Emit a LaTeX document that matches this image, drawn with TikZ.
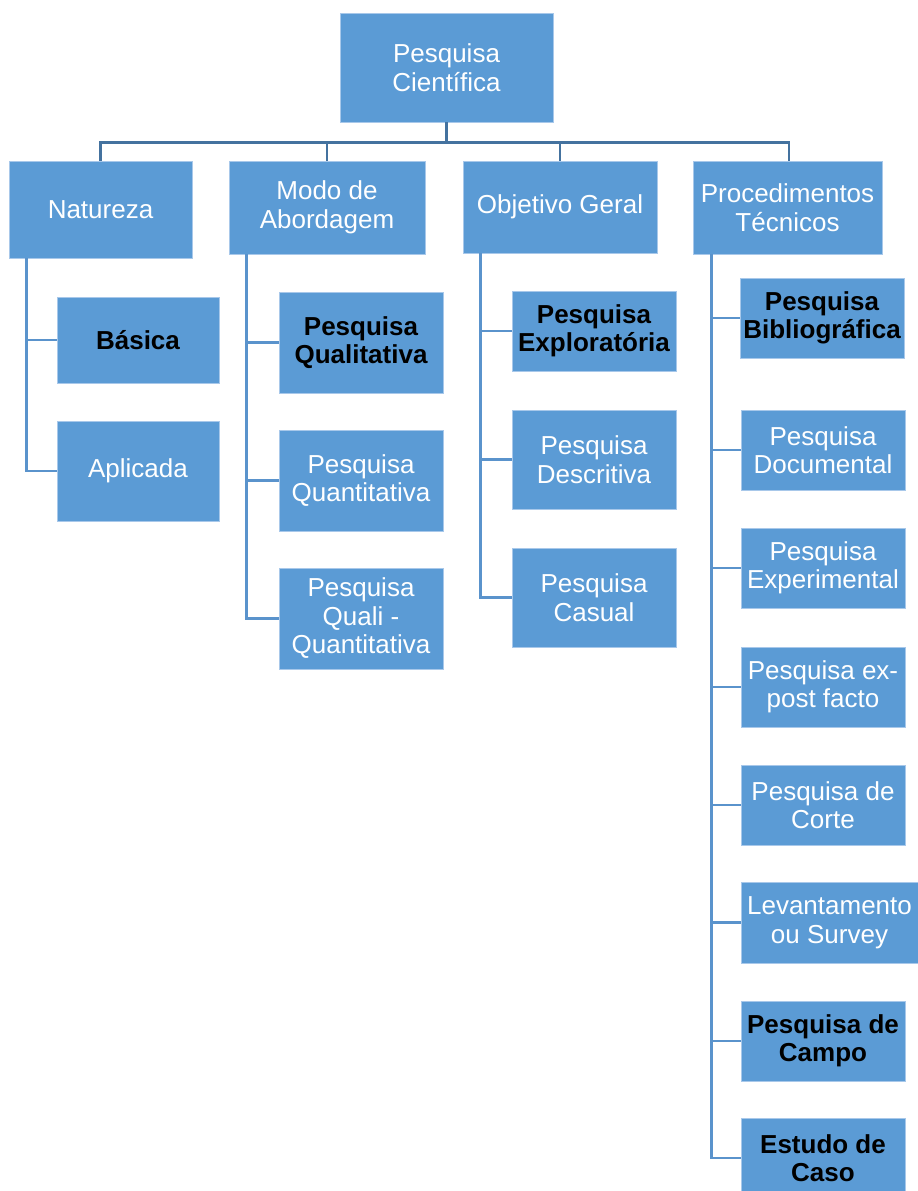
\documentclass[tikz,border=0pt]{standalone}
\usepackage{fontspec}
\setmainfont{Liberation Sans}
\definecolor{boxfill}{HTML}{5B9BD5}
\definecolor{boxedge}{HTML}{A8C8EA}
\definecolor{buscol}{HTML}{44729F}
\definecolor{sidecol}{HTML}{5A93CC}
\tikzset{
  box/.style={rectangle, fill=boxfill, draw=boxedge, line width=0.8pt, inner sep=0pt,
    align=center, text=white, font=\fontsize{26}{28.5}\selectfont},
  boldbox/.style={box, text=black, font=\fontsize{26}{28.5}\selectfont\bfseries},
  bus/.style={draw=buscol, line width=2.6pt},
  side/.style={draw=sidecol, line width=2.6pt},
}
\begin{document}
\begin{tikzpicture}[x=1pt,y=-1pt]
\useasboundingbox (0,0) rectangle (918,1191);
\clip (0,0) rectangle (918,1191);
% root
\node[box, minimum width=213pt, minimum height=109pt] (root) at (446.5,67.5) {Pesquisa\\Científica};
% level 1
\node[box, minimum width=183pt, minimum height=97pt] (nat) at (100.5,209.5) {Natureza};
\node[box, minimum width=196pt, minimum height=93pt] (modo) at (327,207.5) {Modo de\\Abordagem};
\node[box, minimum width=194pt, minimum height=92pt] (obj) at (560,207) {Objetivo Geral};
\node[box, minimum width=189pt, minimum height=93pt] (proc) at (787.5,207.5) {Procedimentos\\Técnicos};
% Natureza children
\node[boldbox, minimum width=162pt, minimum height=86pt] (basica) at (138,340) {Básica};
\node[box, minimum width=162pt, minimum height=100pt] (aplicada) at (138,471) {Aplicada};
% Modo children
\node[boldbox, minimum width=164pt, minimum height=101pt] (qual) at (361,342.5) {Pesquisa\\Qualitativa};
\node[box, minimum width=164pt, minimum height=101pt] (quant) at (361,480.5) {Pesquisa\\Quantitativa};
\node[box, minimum width=164pt, minimum height=101pt] (qq) at (361,618.5) {Pesquisa\\Quali -\\Quantitativa};
% Objetivo children
\node[boldbox, minimum width=164pt, minimum height=80pt] (expl) at (594,331) {Pesquisa\\Exploratória};
\node[box, minimum width=164pt, minimum height=99pt] (desc) at (594,459.5) {Pesquisa\\Descritiva};
\node[box, minimum width=164pt, minimum height=99pt] (casual) at (594,597.5) {Pesquisa\\Casual};
% Procedimentos children
\node[boldbox, minimum width=164pt, minimum height=80pt] (bib) at (822,318) {Pesquisa\\Bibliográfica};
\node[box, minimum width=164pt, minimum height=80pt] (doc) at (823,450) {Pesquisa\\Documental};
\node[box, minimum width=164pt, minimum height=80pt] (exper) at (823,568) {Pesquisa\\Experimental};
\node[box, minimum width=164pt, minimum height=80pt] (expost) at (823,687) {Pesquisa ex-\\post facto};
\node[box, minimum width=164pt, minimum height=80pt] (corte) at (823,805) {Pesquisa de\\Corte};
\node[box, minimum width=177pt, minimum height=81pt] (lev) at (829.5,922.5) {Levantamento\\ou Survey};
\node[boldbox, minimum width=164pt, minimum height=80pt] (campo) at (823,1041) {Pesquisa de\\Campo};
\node[boldbox, minimum width=164pt, minimum height=80pt] (estudo) at (823,1158) {Estudo de\\Caso};
% bus connectors
\draw[bus] (root.south) -- ++(0,20) -| (nat.north);
\draw[bus] (root.south) -- ++(0,20) -| (modo.north);
\draw[bus] (root.south) -- ++(0,20) -| (obj.north);
\draw[bus] (root.south) -- ++(0,20) -| ([xshift=1.5pt]proc.north);
% side connectors
\draw[side] ([xshift=18pt]nat.south west) |- (basica.west);
\draw[side] ([xshift=18pt]nat.south west) |- (aplicada.west);
\draw[side] ([xshift=18pt]modo.south west) |- (qual.west);
\draw[side] ([xshift=18pt]modo.south west) |- (quant.west);
\draw[side] ([xshift=18pt]modo.south west) |- (qq.west);
\draw[side] ([xshift=18pt]obj.south west) |- (expl.west);
\draw[side] ([xshift=18pt]obj.south west) |- (desc.west);
\draw[side] ([xshift=18pt]obj.south west) |- (casual.west);
\draw[side] ([xshift=19pt]proc.south west) |- (bib.west);
\draw[side] ([xshift=19pt]proc.south west) |- (doc.west);
\draw[side] ([xshift=19pt]proc.south west) |- (exper.west);
\draw[side] ([xshift=19pt]proc.south west) |- (expost.west);
\draw[side] ([xshift=19pt]proc.south west) |- (corte.west);
\draw[side] ([xshift=19pt]proc.south west) |- (lev.west);
\draw[side] ([xshift=19pt]proc.south west) |- (campo.west);
\draw[side] ([xshift=19pt]proc.south west) |- (estudo.west);
\end{tikzpicture}
\end{document}
